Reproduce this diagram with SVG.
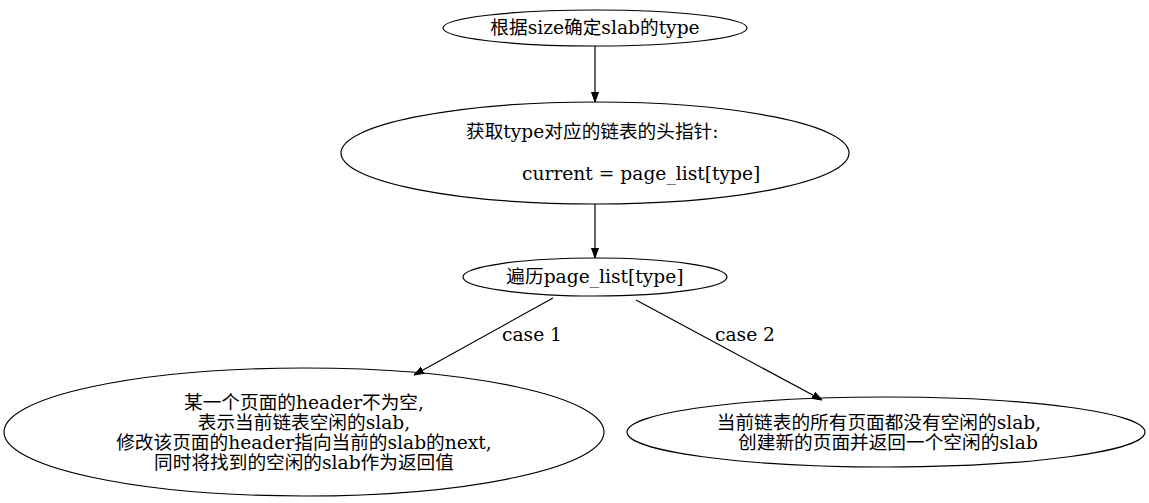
<svg xmlns="http://www.w3.org/2000/svg" width="1149" height="503" viewBox="0 0 1149 503">
<style>
.n{fill:none;stroke:#000;stroke-width:1.2}
.t{font-family:"DejaVu Serif","Noto Sans CJK SC",serif;font-size:18.67px;fill:#000}
.m{text-anchor:middle}
.e{stroke:#000;stroke-width:1.2;fill:none}
</style>
<defs>
<marker id="a" viewBox="0 0 10 10" refX="10" refY="5" markerWidth="10" markerHeight="10" markerUnits="userSpaceOnUse" orient="auto">
<path d="M0,1.5 L10,5 L0,8.5 Z" fill="#000" stroke="#000"/>
</marker>
</defs>
<rect width="1149" height="503" fill="#fff"/>
<g id="edges">
<line class="e" x1="553" y1="298" x2="414" y2="375" marker-end="url(#a)"/>
<line class="e" x1="636" y1="300" x2="822" y2="400" marker-end="url(#a)"/>
<line class="e" x1="595" y1="46" x2="595" y2="102" marker-end="url(#a)"/>
<line class="e" x1="595" y1="204" x2="595" y2="258" marker-end="url(#a)"/>
<text class="t" x="502" y="341">case 1</text>
<text class="t" x="715" y="341">case 2</text>
</g>
<g id="n1">
<ellipse class="n" cx="595" cy="28" rx="152" ry="18"/>
<text class="t m" x="595" y="34">根据size确定slab的type</text>
</g>
<g id="n2">
<ellipse class="n" cx="595" cy="153" rx="254" ry="51"/>
<text class="t" x="466" y="138">获取type对应的链表的头指针:</text>
<text class="t" x="522" y="180">current = page_list[type]</text>
</g>
<g id="n3">
<ellipse class="n" cx="595" cy="277" rx="132" ry="19"/>
<text class="t m" x="595" y="283">遍历page_list[type]</text>
</g>
<g id="n4">
<ellipse class="n" cx="304" cy="432" rx="300" ry="64"/>
<text class="t m" x="304" y="409">某一个页面的header不为空,</text>
<text class="t m" x="304" y="429">表示当前链表空闲的slab,</text>
<text class="t m" x="304" y="449">修改该页面的header指向当前的slab的next,</text>
<text class="t m" x="304" y="469">同时将找到的空闲的slab作为返回值</text>
</g>
<g id="n5">
<ellipse class="n" cx="886" cy="432" rx="259" ry="35"/>
<text class="t m" x="879" y="429">当前链表的所有页面都没有空闲的slab,</text>
<text class="t m" x="888" y="449">创建新的页面并返回一个空闲的slab</text>
</g>
</svg>
